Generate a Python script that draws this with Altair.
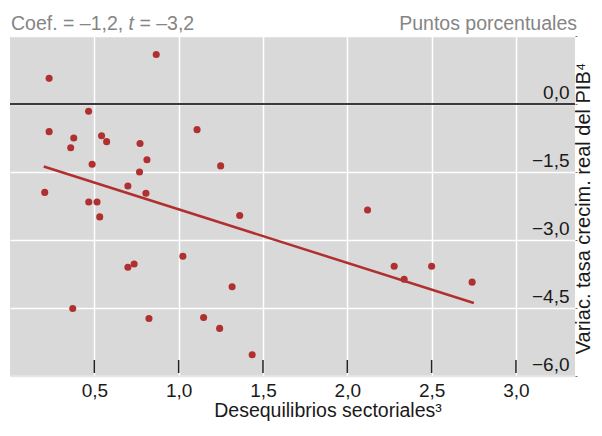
import altair as alt
import pandas as pd

# Scatter points (sectoral imbalance vs change in GDP growth)
x_vals = [0.232, 0.867, 0.466, 0.232, 0.378, 0.360, 0.543, 0.573, 0.771, 1.109,
          0.487, 0.812, 0.768, 1.249, 0.206, 0.699, 0.806, 0.467, 0.516, 0.532,
          1.362, 1.025, 0.699, 0.736, 1.317, 0.372, 0.824, 1.148, 1.243, 1.436,
          2.120, 2.278, 2.337, 2.500, 2.740]
y_vals = [0.566, 1.090, -0.159, -0.610, -0.750, -0.965, -0.700, -0.830, -0.870, -0.566,
          -1.330, -1.230, -1.500, -1.365, -1.950, -1.810, -1.970, -2.160, -2.160, -2.490,
          -2.460, -3.360, -3.600, -3.530, -4.030, -4.510, -4.730, -4.710, -4.950, -5.530,
          -2.340, -3.580, -3.865, -3.580, -3.930]
# Fitted line end points
fit_x = [0.20, 2.75]
fit_y = [-1.38, -4.39]
# Axis ticks
x_ticks = [0.5, 1.0, 1.5, 2.0, 2.5, 3.0]
y_ticks = [1.5, 0.0, -1.5, -3.0, -4.5, -6.0]
zero_line = [0.0]

RED = "#b0302f"
FONT = "Liberation Sans"
W, H = 565, 340

pts = pd.DataFrame({"x": x_vals, "y": y_vals})
fit = pd.DataFrame({"x": fit_x, "y": fit_y})
xt = pd.DataFrame({"x": x_ticks})
zl = pd.DataFrame({"y": zero_line})
one = pd.DataFrame({"a": [0]})

xscale = alt.Scale(domain=[0, 3.35], nice=False, zero=False)
yscale = alt.Scale(domain=[-6, 1.5], nice=False, zero=False)

x_axis = alt.Axis(
    values=x_ticks,
    labelExpr="replace(format(datum.value, '.1f'), '.', ',')",
    ticks=False, tickSize=0,
    grid=True, gridColor="white", gridWidth=1.5,
    domain=True, domainColor="#e6e6e6", domainWidth=1.5,
    labelFont=FONT, labelFontSize=19, labelColor="#1a1a1a",
    labelBaseline="alphabetic", labelPadding=20,
    title="Desequilibrios sectoriales³",
    titleFont=FONT, titleFontSize=19.5, titleFontWeight="normal", titleColor="#1a1a1a",
    titleX=317.5, titleY=40, titleAlign="center", titleBaseline="alphabetic",
)
y_axis = alt.Axis(
    orient="right",
    values=y_ticks,
    labelExpr="datum.value > 1 ? '' : replace(format(datum.value, '.1f'), '.', ',')",
    ticks=True, tickSize=2, tickColor="#777777", tickWidth=1,
    domain=False,
    grid=True, gridColor="white", gridWidth=1.5,
    labelFont=FONT, labelFontSize=19, labelColor="#1a1a1a",
    labelAlign="right", labelBaseline="alphabetic", labelPadding=-8, labelOffset=-6,
    title="Variac. tasa crecim. real del PIB⁴",
    titleFont=FONT, titleFontSize=20, titleFontWeight="normal", titleColor="#1a1a1a",
    titleAngle=270, titleX=14.5, titleY=172, titleAlign="center", titleBaseline="alphabetic",
)

X = lambda: alt.X("x:Q", scale=xscale, axis=x_axis, title="Desequilibrios sectoriales³")
Y = lambda: alt.Y("y:Q", scale=yscale, axis=y_axis, title="Variac. tasa crecim. real del PIB⁴")

zero = alt.Chart(zl).mark_rule(color="#3a3a3a", strokeWidth=2).encode(y=Y())

xticks = alt.Chart(xt).mark_rule(color="#222222", strokeWidth=1.5).encode(
    x=X(), y=alt.value(H - 16), y2=alt.value(H - 3),
)

line = alt.Chart(fit).mark_line(color=RED, strokeWidth=2.5).encode(x=X(), y=Y())

points = alt.Chart(pts).mark_circle(size=50, color=RED, opacity=1).encode(x=X(), y=Y())

HDR = "#858585"
h1 = alt.Chart(one).mark_text(text="Coef. = –1,2,", align="left", baseline="alphabetic",
                               font=FONT, fontSize=19.5, color=HDR).encode(
    x=alt.value(1), y=alt.value(-6))
h2 = alt.Chart(one).mark_text(text="t", align="left", baseline="alphabetic", fontStyle="italic",
                               font=FONT, fontSize=19.5, color=HDR).encode(
    x=alt.value(118.6), y=alt.value(-6))
h3 = alt.Chart(one).mark_text(text="= –3,2", align="left", baseline="alphabetic",
                               font=FONT, fontSize=19.5, color=HDR).encode(
    x=alt.value(129.4), y=alt.value(-6))
h4 = alt.Chart(one).mark_text(text="Puntos porcentuales", align="right", baseline="alphabetic",
                               font=FONT, fontSize=19.5, color=HDR).encode(
    x=alt.value(567), y=alt.value(-6))

chart = alt.layer(zero, xticks, line, points, h1, h2, h3, h4).properties(
    width=W,
    height=H,
    autosize=alt.AutoSizeParams(type="none"),
    padding={"left": 2, "top": 28, "right": 19, "bottom": 45},
).configure_view(
    fill="#d9d9d9", strokeWidth=0,
)

chart.save("out.html", embed_options={"renderer": "svg", "actions": False})
